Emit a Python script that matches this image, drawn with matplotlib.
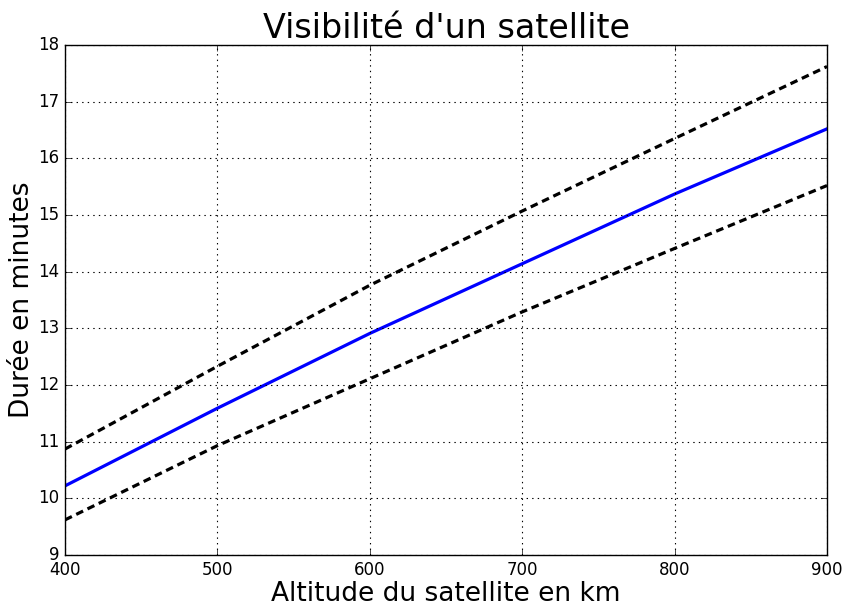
import matplotlib
matplotlib.use("Agg")
import matplotlib.pyplot as plt

# ── Data ────────────────────────────────────────────────────────────────────
altitude  = [400, 500, 600, 700, 800, 900]
duree     = [10.22, 11.59, 12.91, 14.14, 15.37, 16.52]
duree_max = [10.87, 12.33, 13.76, 15.07, 16.35, 17.62]
duree_min = [9.62, 10.93, 12.11, 13.29, 14.41, 15.52]

plt.style.use("classic")

fig = plt.figure(figsize=(8.47, 6.08), dpi=100, facecolor="white")
ax = fig.add_axes([65 / 847, 1 - 555 / 608, 762 / 847, 510 / 608])

ax.plot(altitude, duree, color="blue", lw=2.3)
ax.plot(altitude, duree_max, color="black", lw=2.3, ls="--", dashes=(5.5, 3.5))
ax.plot(altitude, duree_min, color="black", lw=2.3, ls="--", dashes=(5.5, 3.5))

ax.set_xlim(400, 900)
ax.set_ylim(9, 18)
ax.grid(True, color="black", ls=":", lw=0.8)
ax.tick_params(labelsize=12)

ax.set_title("Visibilité d'un satellite", fontsize=24, pad=5)
ax.set_xlabel("Altitude du satellite en km", fontsize=19, labelpad=2)
ax.set_ylabel("Durée en minutes", fontsize=19, labelpad=2)

fig.savefig("out.png", dpi=100, facecolor="white")
